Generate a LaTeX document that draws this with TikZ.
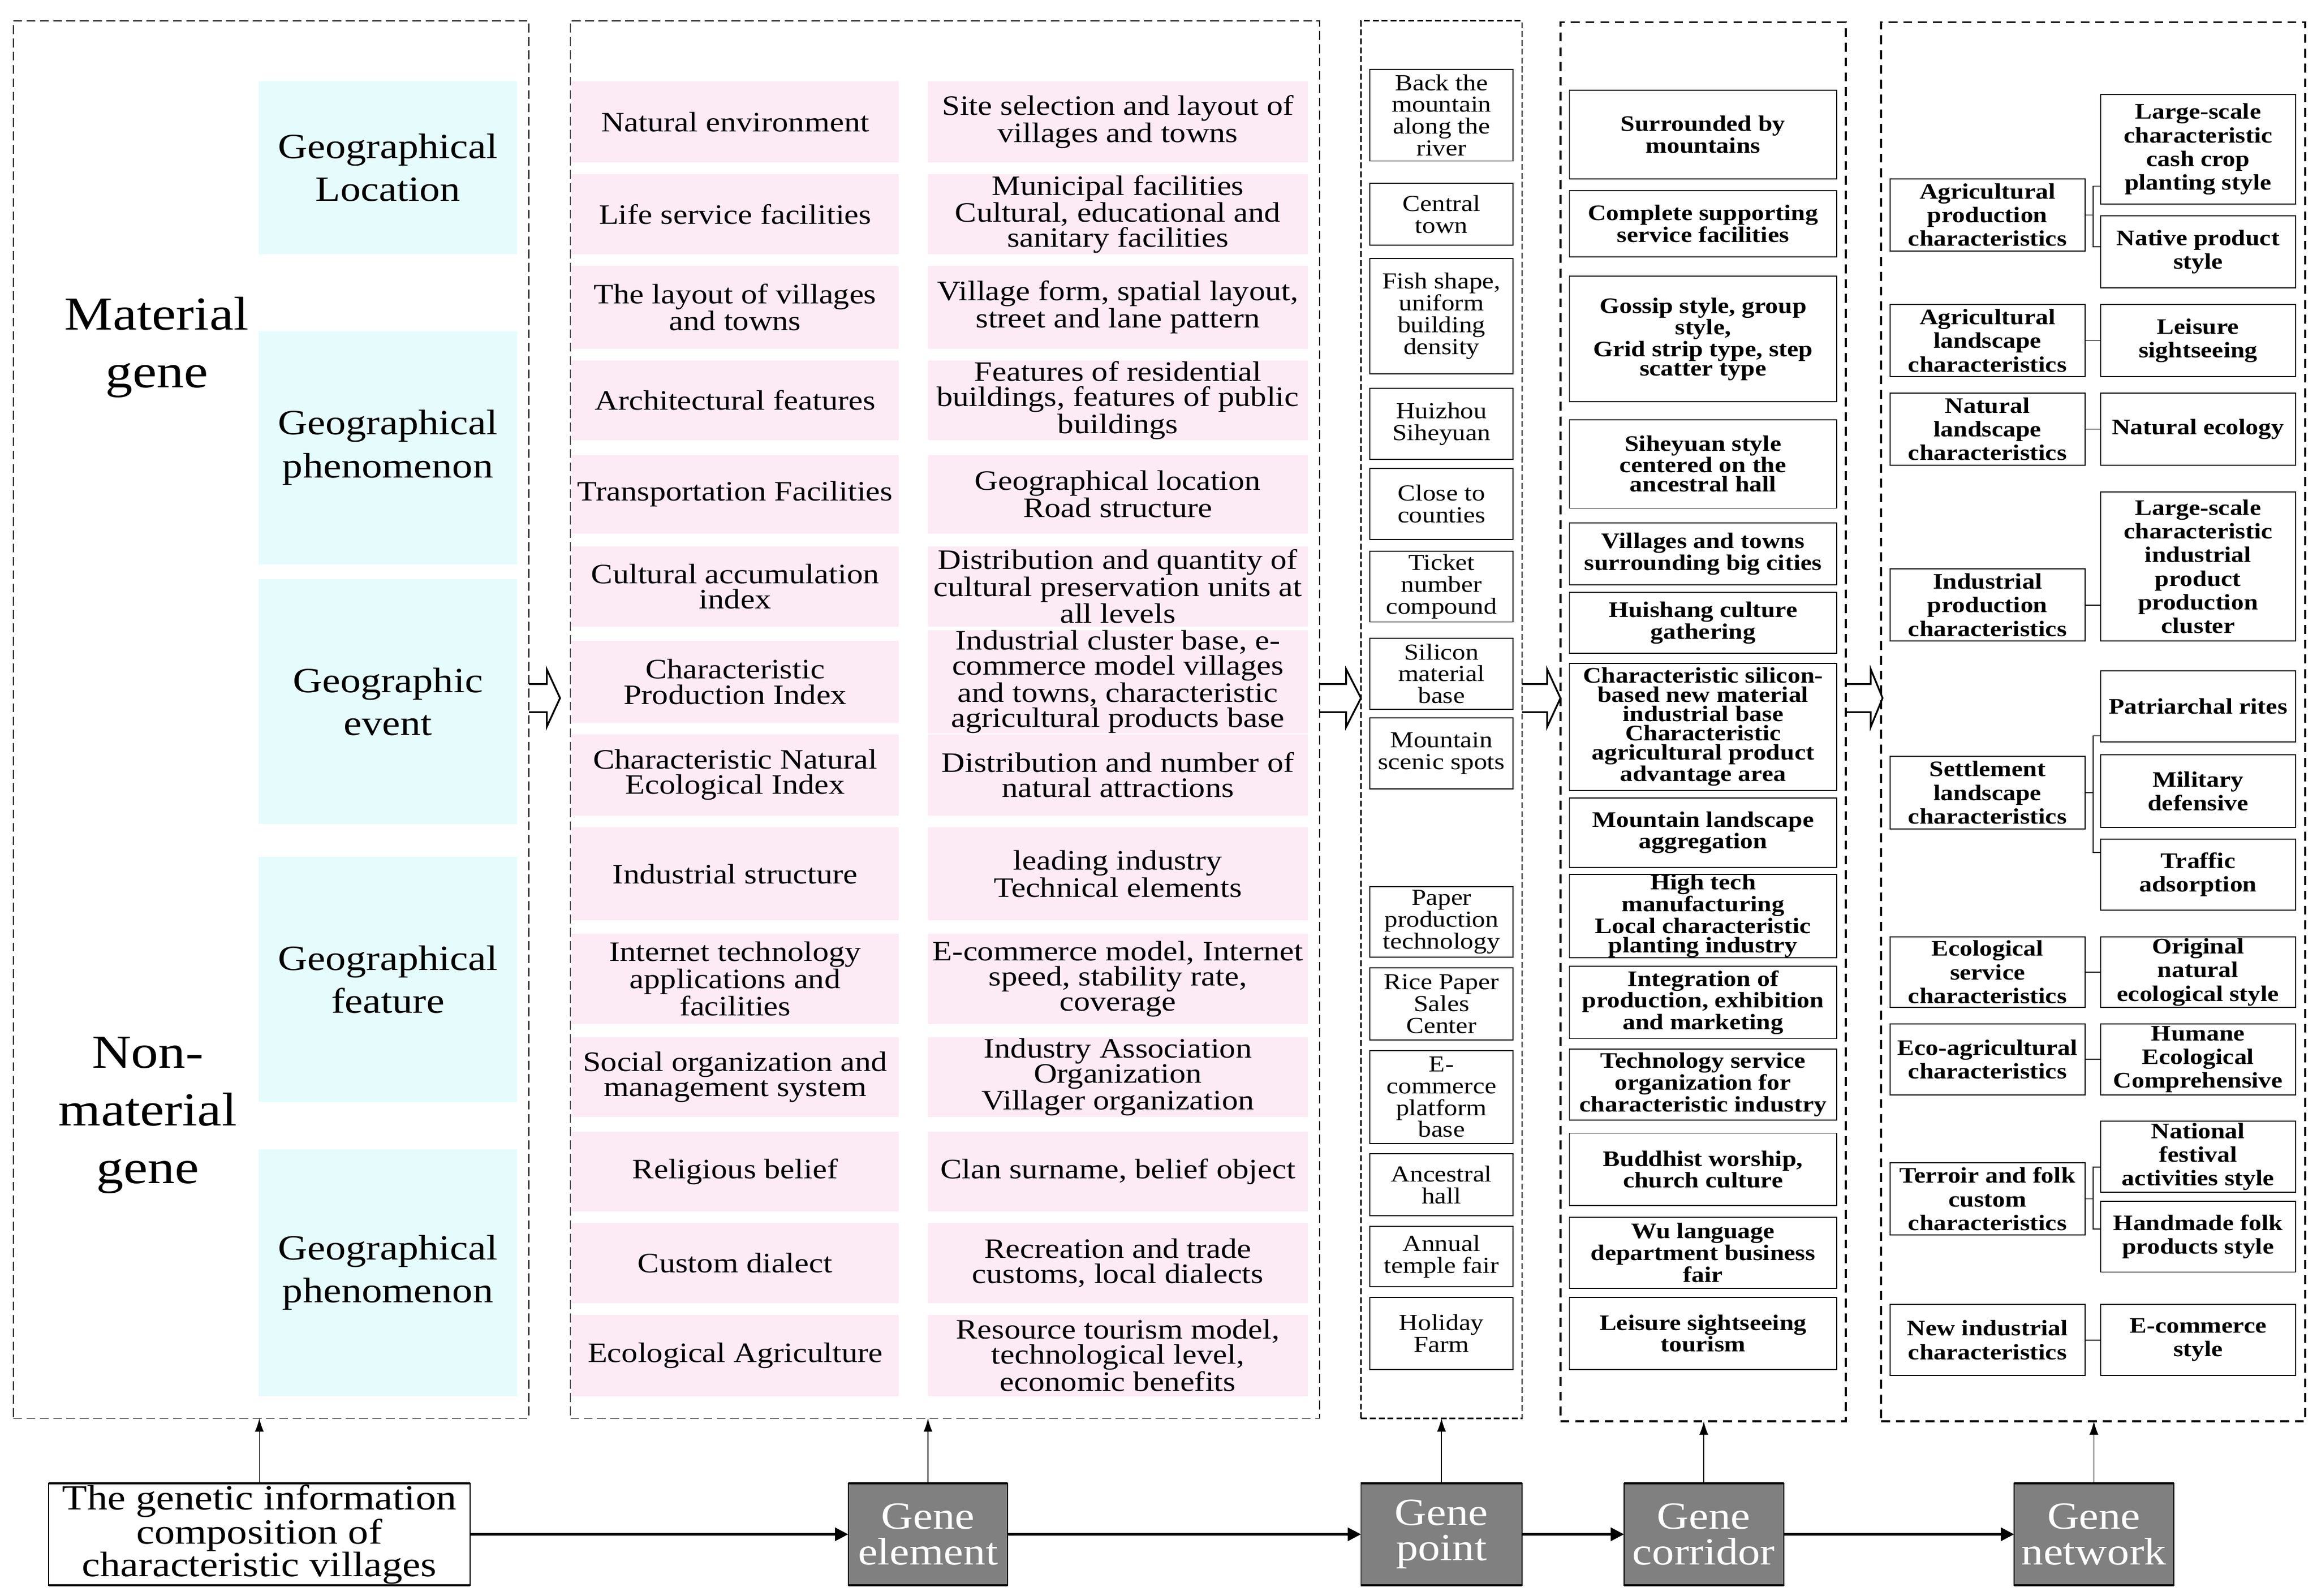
\documentclass[tikz,border=0pt]{standalone}
\usepackage{fontspec}
\setmainfont{Liberation Serif}[FakeStretch=1.15]
\usetikzlibrary{arrows.meta,calc}
\definecolor{cyanC}{RGB}{230,252,252}
\definecolor{pinkC}{RGB}{252,234,245}
\definecolor{geneC}{RGB}{128,128,128}
\newcommand{\boxat}[7]{\node[#1, minimum width={#5-#3}, minimum height={#6-#4}] (#2) at ({(#3+#5)/2},{(#4+#6)/2}) {#7};}
\newcommand{\hollowarrow}[3]{\draw[hollow] (#1,463) -- (#2,463) -- (#2,453) -- (#3,472.5) -- (#2,492) -- (#2,482) -- (#1,482);}
\begin{document}
\begin{tikzpicture}[x=1pt,y=-1pt,
 base/.style={inner sep=0pt, outer sep=0pt, align=center},
 geobox/.style={base, fill=cyanC, font=\fontsize{24}{29}\selectfont},
 elbox/.style={base, fill=pinkC, font=\fontsize{19}{17}\selectfont},
 ptbox/.style={base, draw, line width=0.7pt, font=\fontsize{15.5}{14.8}\selectfont},
 corbox/.style={base, draw, line width=0.7pt, font=\fontsize{15}{13}\selectfont\bfseries},
 netbox/.style={base, draw, line width=0.7pt, font=\fontsize{15}{16}\selectfont\bfseries},
 srcbox/.style={base, draw, line width=0.7pt, fill=white, font=\fontsize{24}{22}\selectfont},
 genebox/.style={base, draw, line width=0.7pt, fill=geneC, text=white, font=\fontsize{26}{24}\selectfont},
 thinframe/.style={base, draw, line width=0.6pt, dash pattern=on 6pt off 3pt},
 ptframe/.style={base, draw, line width=0.9pt, dash pattern=on 4pt off 2pt},
 thickframe/.style={base, draw, line width=1.3pt, dash pattern=on 6pt off 4pt},
 hollow/.style={line width=1.2pt, line join=miter},
 flow/.style={line width=1.5pt, -{Triangle[length=9pt,width=9pt]}},
 up/.style={line width=0.6pt, -{Latex[length=9pt,width=6pt]}},
 link/.style={line width=0.6pt},
 label/.style={base}
]
\useasboundingbox (0,0) rectangle (1568,1080);
% frames
\boxat{thinframe}{c1}{9}{14}{358}{960}{}
\boxat{thinframe}{c2}{386}{14}{893}{960}{}
\boxat{ptframe}{c3}{921}{14}{1030}{960}{}
\boxat{thickframe}{c4}{1056}{15}{1249}{962}{}
\boxat{thickframe}{c5}{1273}{15}{1560}{962}{}
% column 1
\node[label, font=\fontsize{32}{39}\selectfont] (mat) at (106,235) {Material\\gene};
\node[label, font=\fontsize{32}{39}\selectfont] (nonmat) at (100,755) {Non-\\material\\gene};
\boxat{geobox}{g1}{175}{55}{350}{172}{Geographical\\Location}
\boxat{geobox}{g2}{175}{224}{350}{382}{Geographical\\phenomenon}
\boxat{geobox}{g3}{175}{392}{350}{558}{Geographic\\event}
\boxat{geobox}{g4}{175}{580}{350}{746}{Geographical\\feature}
\boxat{geobox}{g5}{175}{778}{350}{945}{Geographical\\phenomenon}
% column 2 left
\boxat{elbox}{l1}{387}{55}{608}{110}{Natural environment}
\boxat{elbox}{l2}{387}{118}{608}{172}{Life service facilities}
\boxat{elbox}{l3}{387}{180}{608}{236}{The layout of villages\\and towns}
\boxat{elbox}{l4}{387}{244}{608}{298}{Architectural features}
\boxat{elbox}{l5}{387}{308}{608}{361}{Transportation Facilities}
\boxat{elbox}{l6}{387}{370}{608}{424}{Cultural accumulation\\index}
\boxat{elbox}{l7}{387}{434}{608}{489}{Characteristic\\Production Index}
\boxat{elbox}{l8}{387}{497}{608}{552}{Characteristic Natural\\Ecological Index}
\boxat{elbox}{l9}{387}{560}{608}{623}{Industrial structure}
\boxat{elbox}{l10}{387}{632}{608}{693}{Internet technology\\applications and\\facilities}
\boxat{elbox}{l11}{387}{702}{608}{756}{Social organization and\\management system}
\boxat{elbox}{l12}{387}{766}{608}{820}{Religious belief}
\boxat{elbox}{l13}{387}{828}{608}{882}{Custom dialect}
\boxat{elbox}{l14}{387}{890}{608}{945}{Ecological Agriculture}
% column 2 right
\boxat{elbox}{r1}{628}{55}{885}{110}{Site selection and layout of\\villages and towns}
\boxat{elbox}{r2}{628}{118}{885}{172}{Municipal facilities\\Cultural, educational and\\sanitary facilities}
\boxat{elbox}{r3}{628}{180}{885}{236}{Village form, spatial layout,\\street and lane pattern}
\boxat{elbox}{r4}{628}{244}{885}{298}{Features of residential\\buildings, features of public\\buildings}
\boxat{elbox}{r5}{628}{308}{885}{361}{Geographical location\\Road structure}
\boxat{elbox}{r6}{628}{370}{885}{424}{Distribution and quantity of\\cultural preservation units at\\all levels}
\boxat{elbox}{r7}{628}{434}{885}{489}{Industrial cluster base, e-\\commerce model villages\\and towns, characteristic\\agricultural products base}
\boxat{elbox}{r8}{628}{497}{885}{552}{Distribution and number of\\natural attractions}
\boxat{elbox}{r9}{628}{560}{885}{623}{leading industry\\Technical elements}
\boxat{elbox}{r10}{628}{632}{885}{693}{E-commerce model, Internet\\speed, stability rate,\\coverage}
\boxat{elbox}{r11}{628}{702}{885}{756}{Industry Association\\Organization\\Villager organization}
\boxat{elbox}{r12}{628}{766}{885}{820}{Clan surname, belief object}
\boxat{elbox}{r13}{628}{828}{885}{882}{Recreation and trade\\customs, local dialects}
\boxat{elbox}{r14}{628}{890}{885}{945}{Resource tourism model,\\technological level,\\economic benefits}
% column 3
\boxat{ptbox}{p1}{927}{47}{1024}{109}{Back the\\mountain\\along the\\river}
\boxat{ptbox}{p2}{927}{124}{1024}{166}{Central\\town}
\boxat{ptbox}{p3}{927}{175}{1024}{253}{Fish shape,\\uniform\\building\\density}
\boxat{ptbox}{p4}{927}{263}{1024}{311}{Huizhou\\Siheyuan}
\boxat{ptbox}{p5}{927}{317}{1024}{365}{Close to\\counties}
\boxat{ptbox}{p6}{927}{373}{1024}{421}{Ticket\\number\\compound}
\boxat{ptbox}{p7}{927}{432}{1024}{480}{Silicon\\material\\base}
\boxat{ptbox}{p8}{927}{486}{1024}{534}{Mountain\\scenic spots}
\boxat{ptbox}{p9}{927}{600}{1024}{648}{Paper\\production\\technology}
\boxat{ptbox}{p10}{927}{655}{1024}{704}{Rice Paper\\Sales\\Center}
\boxat{ptbox}{p11}{927}{711}{1024}{774}{E-\\commerce\\platform\\base}
\boxat{ptbox}{p12}{927}{781}{1024}{823}{Ancestral\\hall}
\boxat{ptbox}{p13}{927}{830}{1024}{871}{Annual\\temple fair}
\boxat{ptbox}{p14}{927}{878}{1024}{927}{Holiday\\Farm}
% column 4
\boxat{corbox}{k1}{1062}{61}{1243}{121}{Surrounded by\\mountains}
\boxat{corbox}{k2}{1062}{129}{1243}{174}{Complete supporting\\service facilities}
\boxat{corbox}{k3}{1062}{187}{1243}{272}{Gossip style, group\\style,\\Grid strip type, step\\scatter type}
\boxat{corbox}{k4}{1062}{284}{1243}{344}{Siheyuan style\\centered on the\\ancestral hall}
\boxat{corbox}{k5}{1062}{354}{1243}{396}{Villages and towns\\surrounding big cities}
\boxat{corbox}{k6}{1062}{401}{1243}{442}{Huishang culture\\gathering}
\boxat{corbox}{k7}{1062}{449}{1243}{535}{Characteristic silicon-\\based new material\\industrial base\\Characteristic\\agricultural product\\advantage area}
\boxat{corbox}{k8}{1062}{540}{1243}{587}{Mountain landscape\\aggregation}
\boxat{corbox}{k9}{1062}{592}{1243}{648}{High tech\\manufacturing\\Local characteristic\\planting industry}
\boxat{corbox}{k10}{1062}{654}{1243}{703}{Integration of\\production, exhibition\\and marketing}
\boxat{corbox}{k11}{1062}{710}{1243}{758}{Technology service\\organization for\\characteristic industry}
\boxat{corbox}{k12}{1062}{767}{1243}{816}{Buddhist worship,\\church culture}
\boxat{corbox}{k13}{1062}{824}{1243}{872}{Wu language\\department business\\fair}
\boxat{corbox}{k14}{1062}{878}{1243}{927}{Leisure sightseeing\\tourism}
% column 5 left
\boxat{netbox}{a1}{1279}{121}{1411}{170}{Agricultural\\production\\characteristics}
\boxat{netbox}{a2}{1279}{206}{1411}{255}{Agricultural\\landscape\\characteristics}
\boxat{netbox}{a3}{1279}{266}{1411}{315}{Natural\\landscape\\characteristics}
\boxat{netbox}{a4}{1279}{385}{1411}{434}{Industrial\\production\\characteristics}
\boxat{netbox}{a5}{1279}{512}{1411}{561}{Settlement\\landscape\\characteristics}
\boxat{netbox}{a6}{1279}{634}{1411}{682}{Ecological\\service\\characteristics}
\boxat{netbox}{a7}{1279}{693}{1411}{741}{Eco-agricultural\\characteristics}
\boxat{netbox}{a8}{1279}{787}{1411}{836}{Terroir and folk\\custom\\characteristics}
\boxat{netbox}{a9}{1279}{883}{1411}{931}{New industrial\\characteristics}
% column 5 right
\boxat{netbox}{b1}{1421.5}{64}{1553.5}{138}{Large-scale\\characteristic\\cash crop\\planting style}
\boxat{netbox}{b2}{1421.5}{146}{1553.5}{195}{Native product\\style}
\boxat{netbox}{b3}{1421.5}{206}{1553.5}{255}{Leisure\\sightseeing}
\boxat{netbox}{b4}{1421.5}{266}{1553.5}{315}{Natural ecology}
\boxat{netbox}{b5}{1421.5}{333}{1553.5}{434}{Large-scale\\characteristic\\industrial\\product\\production\\cluster}
\boxat{netbox}{b6}{1421.5}{454}{1553.5}{502}{Patriarchal rites}
\boxat{netbox}{b7}{1421.5}{511}{1553.5}{560}{Military\\defensive}
\boxat{netbox}{b8}{1421.5}{568}{1553.5}{616}{Traffic\\adsorption}
\boxat{netbox}{b9}{1421.5}{634}{1553.5}{682}{Original\\natural\\ecological style}
\boxat{netbox}{b10}{1421.5}{693}{1553.5}{741}{Humane\\Ecological\\Comprehensive}
\boxat{netbox}{b11}{1421.5}{759}{1553.5}{807}{National\\festival\\activities style}
\boxat{netbox}{b12}{1421.5}{813}{1553.5}{861}{Handmade folk\\products style}
\boxat{netbox}{b13}{1421.5}{883}{1553.5}{931}{E-commerce\\style}
% column 5 links
\coordinate (bxA) at (1416.5,126); \coordinate (bxB) at (1416.5,167);
\coordinate (bxC) at (1416.5,498); \coordinate (bxD) at (1416.5,577);
\coordinate (bxE) at (1416.5,790); \coordinate (bxF) at (1416.5,832);
\draw[link] (a1.east) -- (a1.east -| bxA);
\draw[link] (bxA -| b1.west) -- (bxA) -- (bxB) -- (bxB -| b2.west);
\draw[link] (a2) -- (b3);
\draw[link] (a3) -- (b4);
\draw[link] (a4.east) -- (a4.east -| b5.west);
\draw[link] (a5.east) -- (a5.east -| bxC);
\draw[link] (bxC -| b6.west) -- (bxC) -- (bxD) -- (bxD -| b8.west);
\draw[link] (a6) -- (b9);
\draw[link] (a7) -- (b10);
\draw[link] (a8.east) -- (a8.east -| bxE);
\draw[link] (bxE -| b11.west) -- (bxE) -- (bxF) -- (bxF -| b12.west);
\draw[link] (a9) -- (b13);
% hollow arrows between columns
\hollowarrow{358}{370}{379}
\hollowarrow{893}{911}{921}
\hollowarrow{1030}{1047}{1056}
\hollowarrow{1249}{1266}{1274}
% bottom row
\boxat{srcbox}{src}{33}{1004}{318}{1073}{The genetic information\\composition of\\characteristic villages}
\boxat{genebox}{ge}{574}{1004}{682}{1073}{Gene\\element}
\boxat{genebox}{gp}{921}{1004}{1030}{1073}{Gene\\point}
\boxat{genebox}{gc}{1099}{1004}{1207}{1073}{Gene\\corridor}
\boxat{genebox}{gn}{1363}{1004}{1471}{1073}{Gene\\network}
\foreach \n in {src,ge,gp,gc,gn}
  \draw[line width=1.4pt] (\n.north west) -- (\n.north east) (\n.south west) -- (\n.south east);
\draw[flow] (src) -- (ge);
\draw[flow] (ge) -- (gp);
\draw[flow] (gp) -- (gc);
\draw[flow] (gc) -- (gn);
\draw[up] (src.north) -- (src.north |- c1.south);
\draw[up] (ge.north) -- (ge.north |- c2.south);
\draw[up] (gp.north) -- (gp.north |- c3.south);
\draw[up] (gc.north) -- (gc.north |- c4.south);
\draw[up] (gn.north) -- (gn.north |- c5.south);
\end{tikzpicture}
\end{document}
